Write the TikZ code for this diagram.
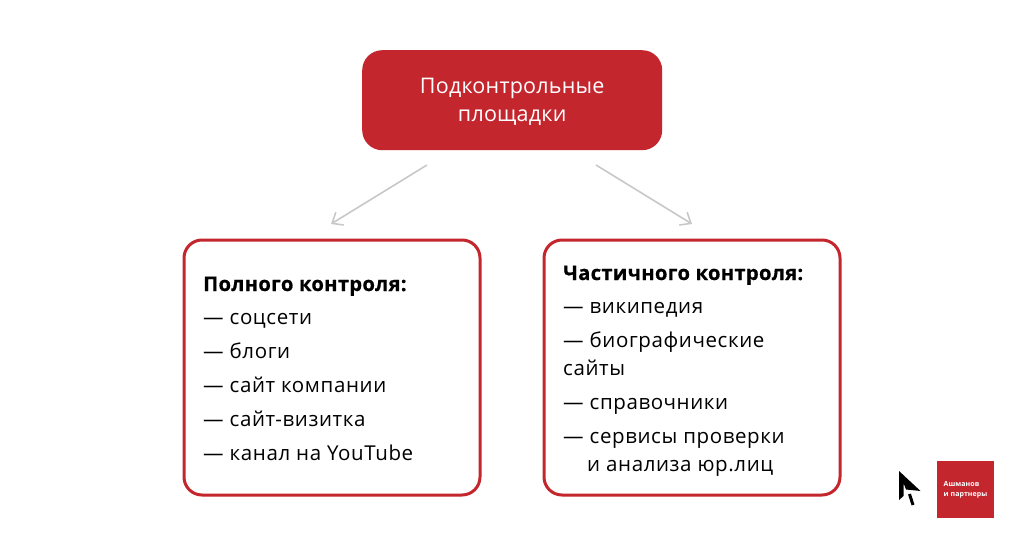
\documentclass[tikz,border=0pt]{standalone}
\usepackage{fontspec}
\setmainfont{Open Sans}
\newfontfamily\bodyf[LetterSpace=3]{Open Sans}
\newfontfamily\headf[LetterSpace=1]{Open Sans}
\newfontfamily\boldf[LetterSpace=1.5,FakeBold=0.6]{Open Sans Bold}
\definecolor{brand}{HTML}{C4262E}
\definecolor{arrowc}{HTML}{C8C8C8}
\usetikzlibrary{arrows.meta}
\tikzset{
 px/.style={x=1pt,y=-1pt},
 panel/.style={draw=brand,line width=3pt,rounded corners=18pt,fill=white,minimum width=296pt,minimum height=255pt,anchor=north west},
 head/.style={fill=brand,rounded corners=20pt,minimum width=300pt,minimum height=100pt,anchor=north west,text=white,align=center,font=\headf\fontsize{21.5}{28}\selectfont},
 line/.style={anchor=base west,inner sep=0pt,font=\bodyf\fontsize{20.5}{24}\selectfont},
 bline/.style={line,font=\boldf\fontsize{20.2}{24}\selectfont},
 conn/.style={draw=arrowc,line width=1.6pt,-{Straight Barb[length=9pt,width=15pt,line width=1.6pt]}},
}
\begin{document}
\begin{tikzpicture}[px]
\useasboundingbox (0,0) rectangle (1024,548);
\fill[white] (0,0) rectangle (1024,548);
\node[head] (top) at (362,50) {\rule{0pt}{19pt}Подконтрольные\\площадки};
\node[panel] (left) at (182.5,238.5) {};
\node[panel] (right) at (542.5,238.5) {};
\coordinate (a1) at (427,165); \coordinate (a2) at (331,224);
\coordinate (b1) at (596,165); \coordinate (b2) at (692,224);
\draw[conn] (a1) -- (a2);
\draw[conn] (b1) -- (b2);
\node[bline] (l0) at (203,291) {Полного контроля:};
\node[line] (l1) at (203,324) {— соцсети};
\node[line] (l2) at (203,358) {— блоги};
\node[line] (l3) at (203,392) {— сайт компании};
\node[line] (l4) at (203,426) {— сайт-визитка};
\node[line] (l5) at (203,460) {— канал на YouTube};
\node[bline] (r0) at (563,280) {Частичного контроля:};
\node[line] (r1) at (563,313) {— википедия};
\node[line] (r2) at (563,347) {— биографические};
\node[line] (r3) at (563,375) {сайты};
\node[line] (r4) at (563,409) {— справочники};
\node[line] (r5) at (563,443) {— сервисы проверки};
\node[line] (r6) at (587,471) {и анализа юр.лиц};
\fill[brand] (937,461) rectangle (994,518);
\node[anchor=west,inner sep=0pt,text=white,align=left,font=\headf\bfseries\fontsize{7}{10}\selectfont] (logo) at (943.5,489.5) {Ашманов\\и партнеры};
\fill[black] (899,471) -- (920.5,491) -- (906,489.5) -- (903.5,483) -- (903.5,496) -- (899,500) -- cycle;
\draw[black,line width=3pt] (909.5,494) -- (913,505);
\end{tikzpicture}
\end{document}
